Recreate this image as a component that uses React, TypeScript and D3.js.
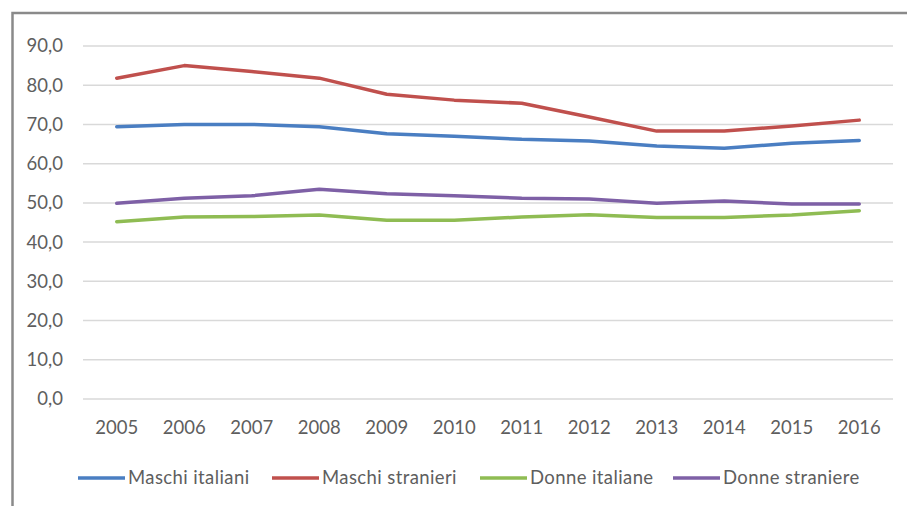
import React, { useEffect, useRef } from 'react';
import * as d3 from 'd3';

const years = ['2005', '2006', '2007', '2008', '2009', '2010', '2011', '2012', '2013', '2014', '2015', '2016'];
const maschiItaliani = [69.4, 70.0, 70.0, 69.4, 67.6, 67.0, 66.2, 65.8, 64.5, 63.9, 65.2, 65.9];
const maschiStranieri = [81.8, 85.0, 83.5, 81.8, 77.7, 76.2, 75.4, 71.9, 68.3, 68.3, 69.6, 71.1];
const donneItaliane = [45.2, 46.4, 46.5, 46.9, 45.6, 45.6, 46.4, 47.0, 46.3, 46.3, 46.9, 48.0];
const donneStraniere = [49.9, 51.2, 51.8, 53.5, 52.3, 51.8, 51.2, 51.0, 49.9, 50.5, 49.7, 49.7];
const yTicks = [0, 10, 20, 30, 40, 50, 60, 70, 80, 90];

const seriesNames = ['Maschi italiani', 'Maschi stranieri', 'Donne italiane', 'Donne straniere'];
const seriesColors = ['#4A7EC2', '#C0504D', '#8FBC53', '#7E60A6'];
const seriesValues = [maschiItaliani, maschiStranieri, donneItaliane, donneStraniere];

export default function App() {
  const svgRef = useRef<SVGSVGElement | null>(null);

  useEffect(() => {
    if (!svgRef.current) return;
    const svg = d3.select(svgRef.current);
    svg.selectAll('*').remove();

    const width = 907;
    const height = 506;
    const font = 'Lato, "Open Sans", sans-serif';
    const textColor = '#5e5e5e';
    const fontSize = 18.5;

    svg.append('rect').attr('width', width).attr('height', height).attr('fill', '#fff');

    // outer frame (only top and left edges visible)
    svg.append('path')
      .attr('d', `M12.5,${height} V13 H${width}`)
      .attr('fill', 'none')
      .attr('stroke', '#8a8a8a')
      .attr('stroke-width', 2.5);

    const x = d3.scaleBand<string>().domain(years).range([83, 893]);
    const y = d3.scaleLinear().domain([0, 90]).range([399, 46]);

    // gridlines
    svg.append('g')
      .selectAll('line')
      .data(yTicks)
      .join('line')
      .attr('x1', 83)
      .attr('x2', 893)
      .attr('y1', d => y(d))
      .attr('y2', d => y(d))
      .attr('stroke', '#d9d9d9')
      .attr('stroke-width', 1.5);

    // y labels
    svg.append('g')
      .selectAll('text')
      .data(yTicks)
      .join('text')
      .attr('x', 63)
      .attr('y', d => y(d))
      .attr('dy', '0.35em')
      .attr('text-anchor', 'end')
      .attr('font-family', font)
      .attr('font-size', fontSize)
      .attr('fill', textColor)
      .text(d => d.toFixed(1).replace('.', ','));

    // x labels
    svg.append('g')
      .selectAll('text')
      .data(years)
      .join('text')
      .attr('x', d => (x(d) || 0) + x.bandwidth() / 2)
      .attr('y', 428)
      .attr('dy', '0.35em')
      .attr('text-anchor', 'middle')
      .attr('font-family', font)
      .attr('font-size', fontSize)
      .attr('fill', textColor)
      .text(d => d);

    const line = d3.line<number>()
      .x((_, i) => (x(years[i]) || 0) + x.bandwidth() / 2)
      .y(d => y(d));

    seriesValues.forEach((vals, i) => {
      svg.append('path')
        .datum(vals)
        .attr('fill', 'none')
        .attr('stroke', seriesColors[i])
        .attr('stroke-width', 3.5)
        .attr('stroke-linejoin', 'round')
        .attr('stroke-linecap', 'round')
        .attr('d', line);
    });

    // legend
    const legendX = [78, 272, 480, 673];
    const legend = svg.append('g');
    seriesNames.forEach((name, i) => {
      legend.append('line')
        .attr('x1', legendX[i])
        .attr('x2', legendX[i] + 47)
        .attr('y1', 478)
        .attr('y2', 478)
        .attr('stroke', seriesColors[i])
        .attr('stroke-width', 3.5);
      legend.append('text')
        .attr('x', legendX[i] + 50)
        .attr('y', 478)
        .attr('dy', '0.35em')
        .attr('font-family', font)
        .attr('font-size', fontSize)
        .attr('letter-spacing', 0.4)
        .attr('fill', textColor)
        .text(name);
    });
  }, []);

  return (
    <div style={{ position: 'absolute', left: 0, top: 0, width: 907, height: 506 }}>
      <svg ref={svgRef} width={907} height={506} style={{ display: 'block' }} />
    </div>
  );
}
